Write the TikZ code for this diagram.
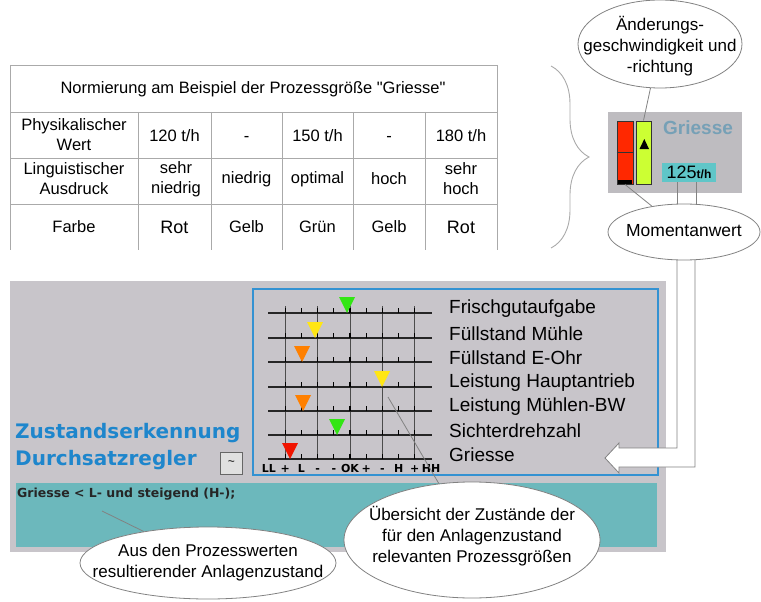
\documentclass[tikz,border=0pt]{standalone}
\usepackage{fontspec}
\setmainfont{Liberation Sans}
\newfontfamily\dejavu{DejaVu Sans}
\usetikzlibrary{shapes.geometric,decorations.pathreplacing}
\newcommand{\setfs}[2]{\fontsize{#1}{#2}\selectfont}
\definecolor{panelgray}{RGB}{200,197,202}
\definecolor{widgray}{RGB}{190,188,192}
\definecolor{tealbox}{RGB}{108,184,188}
\definecolor{framblue}{RGB}{52,146,210}
\definecolor{titleblue}{RGB}{30,134,204}
\definecolor{barred}{RGB}{255,40,0}
\definecolor{bargreen}{RGB}{204,255,51}
\definecolor{valcyan}{RGB}{96,198,200}
\definecolor{namegray}{RGB}{118,160,182}
\definecolor{mkgreen}{RGB}{50,230,20}
\definecolor{mkyellow}{RGB}{255,230,20}
\definecolor{mkorange}{RGB}{255,128,0}
\definecolor{mkred}{RGB}{240,20,0}
\definecolor{linegray}{RGB}{130,130,130}
\definecolor{tabgray}{RGB}{170,170,170}

\begin{document}
\begin{tikzpicture}[x=1pt, y=-1pt,
	cell/.style={font=\setfs{16.5}{20}, align=center, inner sep=0pt},
	callout/.style={ellipse, draw=linegray, fill=white, inner sep=0pt, line width=0.8pt},
	calltext/.style={font=\setfs{17}{21}, align=center, inner sep=0pt},
	callline/.style={draw=linegray, line width=0.8pt},
	tabline/.style={draw=tabgray, line width=0.9pt},
	scaleline/.style={line width=1.8pt, black!85},
	gridline/.style={line width=0.8pt, black!70},
	qname/.style={anchor=west, font=\setfs{19}{19}, inner sep=0pt}]
	\useasboundingbox (0,0) rectangle (761,602);

	\draw[tabline] (10,65) -- (497,65);
	\draw[tabline] (10,112) -- (497,112);
	\draw[tabline] (10,158) -- (497,158);
	\draw[tabline] (10,204) -- (497,204);
	\draw[tabline] (10,65) -- (10,250);
	\draw[tabline] (497,65) -- (497,250);
	\foreach \cx in {138,211,282,353,425}
		\draw[tabline] (\cx,112) -- (\cx,250);

	\node[cell] (head) at (253,89) {Normierung am Beispiel der Prozessgröße \textquotedbl Griesse\textquotedbl};
	\node[cell] (w1) at (74,135) {Physikalischer\\Wert};
	\foreach \cx/\t [count=\c from 2] in {174.5/{120 t/h},246.5/-,317.5/{150 t/h},389/-,461/{180 t/h}}
		\node[cell, anchor=base] (w\c) at (\cx,141) {\t};
	\foreach \cx/\t [count=\c] in {74/{Linguistischer\\Ausdruck},176/{sehr\\niedrig},246.5/niedrig,317.5/optimal,389/hoch,461/{sehr\\hoch}}
		\node[cell] (l\c) at (\cx,179) {\t};
	\foreach \cx/\t [count=\c] in {74/Farbe,174.5/{\setfs{18}{18}Rot},246.5/Gelb,317.5/Grün,389/Gelb,461/{\setfs{18}{18}Rot}}
		\node[cell] (f\c) at (\cx,227) {\t};

	\draw[tabgray, line width=0.9pt, decorate, decoration={brace, amplitude=38pt}] (551,66) -- (551,248);

	\node[fill=widgray, minimum width=134, minimum height=81, inner sep=0pt] (wid) at (675,152.5) {};
	\node[draw=black!80, fill=barred, line width=1pt, minimum width=16, minimum height=63, inner sep=0pt] (redbar) at (625,152.5) {};
	\draw[black!80, line width=1pt] (redbar.west) -- (redbar.east);
	\fill[black] (618,179.5) rectangle (632,184);
	\node[draw=black!80, fill=bargreen, line width=1pt, minimum width=15, minimum height=63, inner sep=0pt] (grnbar) at (643.5,152.5) {};
	\fill[black] (639.5,149) -- (649,149) -- (644.3,139) -- cycle;
	\node[anchor=west, text=namegray, font=\bfseries\setfs{19}{19}, inner sep=0pt] (gname) at (663,128) {Griesse};
	\node[fill=valcyan, minimum width=54, minimum height=19, inner sep=1pt] (val) at (689,172.5) {\setfs{18}{18}125{\bfseries\setfs{12}{12}t/h}};

	\fill[panelgray] (10,281) rectangle (666,552);
	\draw[framblue, line width=2pt, fill=panelgray] (253,289) rectangle (658,475);
	\fill[tealbox] (16,483) rectangle (657,547);

	\foreach \k in {1,3,...,9}
		\draw[gridline] (269+16.2*\k,306) -- (269+16.2*\k,459);
	\foreach \ly/\mx/\col/\lab [count=\i] in {313/347/mkgreen/Frischgutaufgabe, 338/315/mkyellow/Füllstand Mühle, 362/302/mkorange/Füllstand E-Ohr, 387/382/mkyellow/Leistung Hauptantrieb, 411/303/mkorange/Leistung Mühlen-BW, 435/337/mkgreen/Sichterdrehzahl, 459/290/mkred/Griesse}{
		\draw[scaleline] (268,\ly) -- (432,\ly);
		\foreach \k in {1,...,9}
			\draw[line width=1.2pt] (269+16.2*\k,\ly) -- (269+16.2*\k,\ly-5);
		\fill[\col] (\mx-8,\ly-16) -- (\mx+8,\ly-16) -- (\mx,\ly) -- cycle;
		\node[qname] (q\i) at (449,\ly-4) {\lab};
	}
	\foreach \t [count=\k from 0] in {LL,+,L,-,-,OK,+,-,H,+,HH}
		\node[font=\dejavu\bfseries\setfs{11}{11}, anchor=base, inner sep=0pt] (s\k) at (269+16.2*\k,472) {\t};

	\node[anchor=west, text=titleblue, font=\dejavu\bfseries\setfs{20}{27}, align=left, inner sep=0pt] (title) at (15,447) {Zustandserkennung\\Durchsatzregler};
	\node[draw=black!60, fill=black!12, minimum size=22, inner sep=0pt, font=\setfs{12}{12}] (btn) at (231.5,463) {\textasciitilde};
	\node[anchor=west, inner sep=0pt, text=black!85, font=\dejavu\bfseries\setfs{12.5}{12.5}] (state) at (17,494) {Griesse < L- und steigend (H-);};

	\draw[linegray, fill=white, line width=0.8pt] (677,250) -- (677,448) -- (619,448) -- (619,443) -- (605,458) -- (619,473) -- (619,467) -- (695,467) -- (695,250);

	\node[callout, minimum width=164, minimum height=88] (aend) at (660,44) {};
	\node[calltext] (aendt) at (660,46) {Änderungs-\\geschwindigkeit und\\-richtung};
	\node[callout, minimum width=152, minimum height=56] (mom) at (684,232) {};
	\node[calltext, font=\setfs{17.5}{20}] (momt) at (684,231) {Momentanwert};
	\node[callout, minimum width=256, minimum height=72] (aus) at (208,563) {};
	\node[calltext] (aust) at (208,563) {Aus den Prozesswerten\\resultierender Anlagenzustand};
	\node[callout, minimum width=256, minimum height=116] (ueb) at (472,540) {};
	\node[calltext] (uebt) at (472,536) {Übersicht der Zustände der\\für den Anlagenzustand\\relevanten Prozessgrößen};

	\draw[callline] (grnbar.north) -- (aend);
	\draw[callline] (redbar.south) -- (mom);
	\coordinate (m1) at ([xshift=-12pt]val.south);
	\coordinate (m2) at ([xshift=7pt]val.south);
	\draw[callline] (m1) -- (m1 |- mom.north);
	\draw[callline] (m2) -- (m2 |- mom.north);
	\coordinate (zst) at (102,511);
	\draw[callline] (zst) -- (aus);
	\coordinate (ustart) at (388,397);
	\draw[callline] (ustart) -- (ueb);
\end{tikzpicture}
\end{document}
